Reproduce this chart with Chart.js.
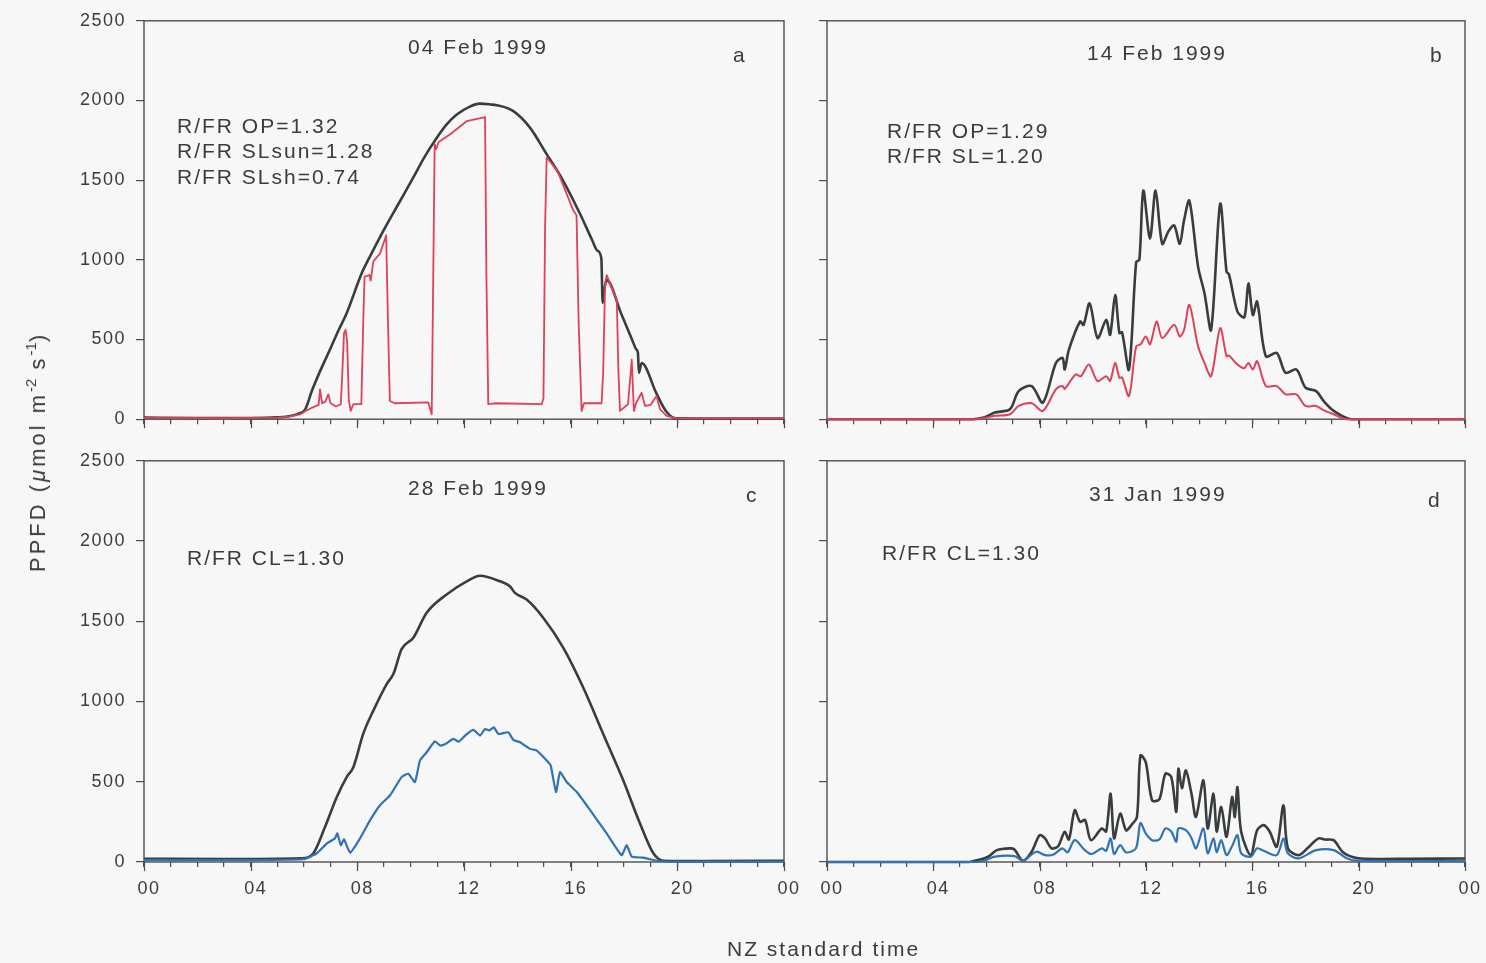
<!DOCTYPE html>
<html>
<head>
<meta charset="utf-8">
<script src="https://cdn.jsdelivr.net/npm/chart.js@4.4.0/dist/chart.umd.min.js"></script>
<style>
  body {
    margin: 0;
    width: 1486px;
    height: 963px;
    position: relative;
    overflow: hidden;
    background: #f7f7f7;
    font-family: "Liberation Sans", Arial, Helvetica, sans-serif;
    color: #3b3b3b;
  }
  canvas { position: absolute; }
  .txt {
    position: absolute;
    font-size: 21px;
    line-height: 1;
    letter-spacing: 2px;
    white-space: nowrap;
  }
  .ytitle {
    position: absolute;
    left: 36px;
    top: 452px;
    transform: translate(-50%, -50%) rotate(-90deg);
    font-size: 22px;
    line-height: 1;
    letter-spacing: 3px;
    white-space: nowrap;
  }
  .ytitle sup { font-size: 15px; vertical-align: 9px; letter-spacing: 0; }
</style>
</head>
<body>

<canvas id="panelA" width="800" height="440" style="left:0;top:0;width:800px;height:440px"></canvas>
<canvas id="panelB" width="686" height="440" style="left:800px;top:0;width:686px;height:440px"></canvas>
<canvas id="panelC" width="820" height="523" style="left:0;top:440px;width:820px;height:523px"></canvas>
<canvas id="panelD" width="686" height="523" style="left:800px;top:440px;width:686px;height:523px"></canvas>

<div class="txt" style="left:408px;top:36px">04 Feb 1999</div>
<div class="txt" style="left:733px;top:44px">a</div>
<div class="txt" style="left:177px;top:115px">R/FR OP=1.32</div>
<div class="txt" style="left:177px;top:140px">R/FR SLsun=1.28</div>
<div class="txt" style="left:177px;top:166px">R/FR SLsh=0.74</div>

<div class="txt" style="left:1087px;top:42px">14 Feb 1999</div>
<div class="txt" style="left:1430px;top:44px">b</div>
<div class="txt" style="left:887px;top:120px">R/FR OP=1.29</div>
<div class="txt" style="left:887px;top:145px">R/FR SL=1.20</div>

<div class="txt" style="left:408px;top:477px">28 Feb 1999</div>
<div class="txt" style="left:746px;top:484px">c</div>
<div class="txt" style="left:187px;top:547px">R/FR CL=1.30</div>

<div class="txt" style="left:1089px;top:483px">31 Jan 1999</div>
<div class="txt" style="left:1428px;top:489px">d</div>
<div class="txt" style="left:882px;top:542px">R/FR CL=1.30</div>

<div class="ytitle">PPFD (<i>&mu;</i>mol m<sup>-2</sup> s<sup>-1</sup>)</div>
<div class="txt" style="left:727px;top:938px">NZ standard time</div>

<script>
// hour-of-day tick labels
const tickHours = [0, 4, 8, 12, 16, 20, 24];
const tickText = ['00', '04', '08', '12', '16', '20', '00'];
const ppfdTicks = [0, 500, 1000, 1500, 2000, 2500];

// a: 04 Feb 1999, open (black) and sunfleck / shade (red)
const hoursOpenA = [0, 2, 4, 5, 5.5, 5.8, 6.04, 6.3, 6.6, 6.97, 7.3, 7.6, 8.16, 8.5, 8.85, 9.47, 10.1, 10.5, 10.98, 11.35, 11.73, 12.2, 12.6, 13.0, 13.23, 13.85, 14.48, 15.1, 15.72, 16.35, 16.8, 17.0, 17.15, 17.2, 17.25, 17.35, 17.9, 18.3, 18.47, 18.52, 18.56, 18.66, 19.22, 19.6, 19.97, 21, 24];
const ppfdOpenA = [10, 8, 8, 12, 20, 35, 60, 180, 300, 436, 560, 665, 914, 1030, 1143, 1330, 1517, 1640, 1766, 1850, 1912, 1960, 1980, 1975, 1970, 1933, 1828, 1663, 1496, 1289, 1126, 1058, 1010, 730, 800, 873, 660, 500, 436, 420, 291, 353, 160, 45, 5, 4, 4];
const hoursSlA = [0, 3, 5, 5.5, 5.85, 6.04, 6.31, 6.55, 6.6, 6.68, 6.8, 6.91, 7.0, 7.2, 7.38, 7.44, 7.5, 7.56, 7.62, 7.68, 7.75, 7.85, 8.15, 8.22, 8.27, 8.45, 8.5, 8.6, 8.85, 9.08, 9.15, 9.22, 9.4, 10.66, 10.79, 10.9, 10.96, 11.05, 11.47, 12.1, 12.79, 12.84, 12.91, 13.2, 14.91, 14.98, 15.04, 15.1, 15.5, 16.1, 16.22, 16.3, 16.41, 16.5, 17.16, 17.22, 17.29, 17.35, 17.73, 17.79, 17.85, 18.15, 18.29, 18.37, 18.45, 18.66, 18.79, 19.0, 19.22, 19.35, 19.6, 19.97, 21, 24];
const ppfdSlA = [8, 6, 10, 18, 30, 50, 73, 90, 187, 100, 110, 156, 100, 80, 94, 300, 540, 561, 480, 120, 52, 94, 94, 600, 893, 905, 870, 990, 1040, 1153, 600, 114, 100, 105, 31, 1725, 1695, 1740, 1787, 1870, 1895, 900, 94, 100, 94, 130, 1200, 1642, 1560, 1309, 1280, 600, 52, 100, 100, 300, 850, 904, 748, 300, 52, 94, 374, 52, 100, 166, 83, 90, 145, 62, 21, 5, 5, 5];

// b: 14 Feb 1999, open (black) and sunlit (red)
const hoursOpenB = [0, 5.5, 5.9, 6.31, 6.88, 7.21, 7.7, 8.12, 8.61, 8.86, 8.94, 9.1, 9.52, 9.65, 9.88, 10.18, 10.5, 10.65, 10.84, 11.0, 11.1, 11.36, 11.63, 11.75, 11.9, 12.15, 12.36, 12.61, 12.85, 13.06, 13.27, 13.43, 13.63, 13.96, 14.2, 14.45, 14.79, 15.03, 15.12, 15.44, 15.7, 15.85, 16.02, 16.18, 16.51, 16.92, 17.25, 17.66, 18.0, 18.4, 18.7, 19.06, 19.72, 24];
const ppfdOpenB = [0, 0, 10, 42, 62, 176, 208, 104, 353, 385, 312, 436, 613, 592, 727, 509, 623, 530, 779, 540, 545, 312, 987, 1000, 1434, 1133, 1434, 1101, 1180, 1216, 1101, 1247, 1371, 956, 790, 561, 1351, 925, 910, 675, 640, 852, 654, 738, 395, 416, 291, 312, 198, 176, 110, 52, 0, 0];
const hoursSlB = [0, 5.6, 6.0, 6.31, 6.88, 7.21, 7.7, 8.12, 8.61, 8.86, 8.94, 9.35, 9.55, 9.85, 10.18, 10.5, 10.65, 10.84, 11.0, 11.1, 11.36, 11.63, 11.8, 11.99, 12.15, 12.4, 12.61, 13.06, 13.27, 13.43, 13.63, 13.96, 14.2, 14.45, 14.79, 15.03, 15.12, 15.44, 15.7, 15.85, 16.02, 16.18, 16.51, 16.92, 17.25, 17.66, 18.0, 18.4, 18.7, 19.06, 19.55, 24];
const ppfdSlB = [0, 0, 10, 21, 31, 83, 100, 52, 187, 208, 190, 281, 270, 343, 239, 270, 240, 353, 260, 262, 146, 457, 470, 519, 470, 613, 509, 592, 519, 560, 717, 457, 353, 270, 571, 395, 400, 343, 320, 353, 312, 364, 208, 208, 156, 156, 83, 83, 55, 31, 0, 0];

// c: 28 Feb 1999, open (black) and clearing (blue)
const hoursOpenC = [0, 3, 5.91, 6.35, 6.79, 7.23, 7.6, 7.85, 8.22, 8.6, 9.1, 9.35, 9.66, 10.1, 10.6, 11.35, 12.1, 12.6, 13.35, 13.72, 13.91, 14.35, 14.97, 15.72, 16.47, 17.22, 17.97, 18.6, 19.1, 19.47, 21, 24];
const ppfdOpenC = [20, 18, 23, 54, 219, 405, 529, 591, 798, 943, 1109, 1171, 1326, 1398, 1553, 1667, 1749, 1784, 1749, 1718, 1677, 1635, 1522, 1336, 1087, 798, 509, 240, 54, 8, 6, 8];
const hoursClC = [0, 3, 5.97, 6.48, 6.85, 7.16, 7.25, 7.38, 7.5, 7.73, 8.1, 8.48, 8.85, 9.23, 9.66, 9.91, 10.16, 10.35, 10.6, 10.91, 11.1, 11.3, 11.6, 11.8, 12.04, 12.35, 12.6, 12.79, 12.95, 13.12, 13.29, 13.66, 13.85, 14.1, 14.48, 14.72, 15.1, 15.25, 15.45, 15.6, 15.85, 16.23, 16.73, 17.35, 17.91, 18.1, 18.29, 18.72, 19.22, 19.6, 24];
const ppfdClC = [12, 12, 17, 54, 115, 147, 178, 105, 141, 58, 147, 261, 354, 416, 529, 550, 498, 633, 684, 752, 726, 735, 767, 750, 788, 823, 788, 829, 820, 839, 798, 808, 761, 746, 705, 695, 633, 602, 436, 560, 498, 436, 323, 178, 43, 105, 33, 27, 8, 3, 3];

// d: 31 Jan 1999, open (black) and clearing (blue)
const hoursOpenD = [0, 5.0, 5.4, 6.06, 6.39, 6.88, 7.05, 7.37, 7.7, 8.0, 8.2, 8.45, 8.7, 8.94, 9.1, 9.32, 9.52, 9.71, 9.93, 10.34, 10.5, 10.67, 10.8, 11.03, 11.25, 11.45, 11.66, 11.79, 11.99, 12.23, 12.5, 12.73, 12.95, 13.14, 13.22, 13.35, 13.5, 13.71, 13.88, 14.16, 14.32, 14.54, 14.66, 14.83, 15.03, 15.24, 15.34, 15.44, 15.58, 15.94, 16.18, 16.43, 16.65, 16.92, 17.17, 17.34, 17.75, 18.07, 18.49, 18.75, 19.06, 19.39, 19.8, 20.2, 22, 24];
const ppfdOpenD = [0, 0, 2, 33, 74, 85, 78, 8, 64, 167, 147, 85, 100, 188, 140, 323, 250, 261, 136, 209, 190, 426, 147, 302, 198, 230, 281, 664, 622, 385, 390, 550, 530, 312, 581, 460, 571, 426, 281, 509, 209, 426, 190, 343, 157, 405, 280, 467, 188, 43, 198, 230, 190, 95, 354, 85, 43, 85, 147, 140, 136, 64, 29, 20, 20, 22];
const hoursClD = [0, 5.6, 5.9, 6.31, 7.05, 7.37, 7.87, 8.2, 8.5, 8.86, 9.05, 9.32, 9.7, 9.95, 10.34, 10.5, 10.67, 10.8, 11.03, 11.25, 11.62, 11.79, 11.99, 12.23, 12.5, 12.73, 12.95, 13.14, 13.22, 13.5, 13.71, 13.88, 14.16, 14.32, 14.54, 14.66, 14.83, 15.03, 15.24, 15.44, 15.58, 15.94, 16.18, 16.43, 16.92, 17.17, 17.34, 17.75, 18.4, 19.06, 19.55, 19.9, 24];
const ppfdClD = [0, 0, 8, 33, 37, 8, 64, 43, 45, 85, 60, 136, 74, 50, 85, 70, 147, 50, 105, 60, 85, 243, 178, 136, 140, 209, 190, 126, 209, 198, 150, 85, 209, 54, 147, 60, 136, 43, 100, 167, 54, 33, 85, 70, 43, 147, 54, 23, 74, 74, 23, 8, 5];

const fontFamily = '"Liberation Sans", Arial, Helvetica, sans-serif';
const axisColor = '#4e4e4e';
const openColor = '#3a3d3d';
const redColor = '#df4157';
const blueColor = '#2f73b4';

function toPoints(hours, values) {
  return hours.map((h, i) => ({ x: h, y: values[i] }));
}

// box around the plot area, longer marks at the labelled hours,
// and wider letter spacing for tick labels
const framePlugin = {
  id: 'frame',
  beforeDraw(chart) {
    chart.ctx.letterSpacing = '1.5px';
  },
  beforeDatasetsDraw(chart) {
    const { ctx, chartArea: a, scales } = chart;
    ctx.save();
    ctx.strokeStyle = axisColor;
    ctx.lineWidth = 1.4;
    ctx.strokeRect(a.left, a.top, a.right - a.left, a.bottom - a.top);
    ctx.lineWidth = 1.2;
    ctx.beginPath();
    tickHours.forEach(h => {
      const px = Math.round(scales.x.getPixelForValue(h)) + 0.5;
      ctx.moveTo(px, a.bottom);
      ctx.lineTo(px, a.bottom + 9);
    });
    ctx.stroke();
    ctx.restore();
  }
};

function makePanel(id, cfg) {
  const datasets = [
    {
      data: toPoints(cfg.hoursCol, cfg.ppfdCol),
      borderColor: cfg.color,
      borderWidth: cfg.colWidth,
      tension: cfg.colTension
    },
    {
      data: toPoints(cfg.hoursOpen, cfg.ppfdOpen),
      borderColor: openColor,
      borderWidth: 2.6,
      tension: cfg.openTension,
      cubicInterpolationMode: cfg.smoothOpen ? 'monotone' : 'default'
    }
  ];
  datasets.forEach(d => {
    d.pointRadius = 0;
    d.fill = false;
    d.clip = false;
    d.borderJoinStyle = 'round';
  });

  new Chart(document.getElementById(id), {
    type: 'line',
    data: { datasets: datasets },
    plugins: [framePlugin],
    options: {
      responsive: false,
      animation: false,
      devicePixelRatio: 1,
      layout: { padding: cfg.padding },
      plugins: { legend: { display: false }, tooltip: { enabled: false } },
      scales: {
        x: {
          type: 'linear',
          min: 0,
          max: 24,
          afterFit: s => { s.height = cfg.xHeight; },
          afterBuildTicks: s => {
            s.ticks = Array.from({ length: 25 }, (_, i) => ({ value: i }));
          },
          border: { display: false },
          grid: { drawOnChartArea: false, tickLength: 5, color: axisColor, lineWidth: 1.2 },
          ticks: {
            autoSkip: false,
            maxRotation: 0,
            padding: 11,
            labelOffset: 5,
            color: '#3b3b3b',
            font: { family: fontFamily, size: 18 },
            callback: v => {
              if (!cfg.xLabels) return '';
              const k = tickHours.indexOf(v);
              return k >= 0 ? tickText[k] : '';
            }
          }
        },
        y: {
          min: 0,
          max: 2500,
          afterFit: s => { s.width = cfg.yWidth; },
          afterBuildTicks: s => {
            s.ticks = ppfdTicks.map(v => ({ value: v }));
          },
          border: { display: false },
          grid: { drawOnChartArea: false, tickLength: 8, color: axisColor, lineWidth: 1.2 },
          ticks: {
            padding: 10,
            color: '#3b3b3b',
            font: { family: fontFamily, size: 18 },
            callback: v => cfg.yLabels ? String(v) : ''
          }
        }
      }
    }
  });
}

makePanel('panelA', {
  hoursOpen: hoursOpenA, ppfdOpen: ppfdOpenA, openTension: 0.4, smoothOpen: true,
  hoursCol: hoursSlA, ppfdCol: ppfdSlA, color: redColor, colWidth: 1.8, colTension: 0,
  padding: { left: 0, top: 19, right: 16, bottom: 0 },
  yWidth: 144, xHeight: 20, xLabels: false, yLabels: true
});
makePanel('panelB', {
  hoursOpen: hoursOpenB, ppfdOpen: ppfdOpenB, openTension: 0.3, smoothOpen: false,
  hoursCol: hoursSlB, ppfdCol: ppfdSlB, color: redColor, colWidth: 2, colTension: 0.3,
  padding: { left: 0, top: 19, right: 21, bottom: 0 },
  yWidth: 27, xHeight: 20, xLabels: false, yLabels: false
});
makePanel('panelC', {
  hoursOpen: hoursOpenC, ppfdOpen: ppfdOpenC, openTension: 0.4, smoothOpen: true,
  hoursCol: hoursClC, ppfdCol: ppfdClC, color: blueColor, colWidth: 2.2, colTension: 0.15,
  padding: { left: 0, top: 19, right: 36, bottom: 0 },
  yWidth: 144, xHeight: 101, xLabels: true, yLabels: true
});
makePanel('panelD', {
  hoursOpen: hoursOpenD, ppfdOpen: ppfdOpenD, openTension: 0.3, smoothOpen: false,
  hoursCol: hoursClD, ppfdCol: ppfdClD, color: blueColor, colWidth: 2.2, colTension: 0.3,
  padding: { left: 0, top: 19, right: 21, bottom: 0 },
  yWidth: 27, xHeight: 101, xLabels: true, yLabels: false
});
</script>
</body>
</html>
